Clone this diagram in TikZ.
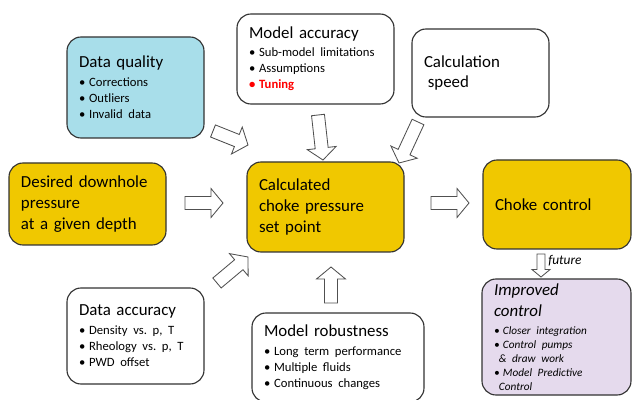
\documentclass[tikz,border=0pt]{standalone}
\usepackage{fontspec}
\setmainfont{Carlito}
\usetikzlibrary{calc}

\newdimen\px \px=0.025cm
\definecolor{boxline}{RGB}{50,50,50}
\definecolor{arrowline}{RGB}{80,80,80}
\definecolor{gold}{RGB}{240,200,0}
\definecolor{skyblue}{RGB}{168,222,234}
\definecolor{lavender}{RGB}{229,218,237}

\newcommand{\tsize}{\fontsize{12}{14.9}\selectfont}
\newcommand{\lsize}{\fontsize{9}{11.4}\selectfont}
\newcommand{\ssize}{\fontsize{8}{9.9}\selectfont}
\newcommand{\bul}{\textbullet\hspace{0.3em}}

\newcommand{\hollowarrow}[3][1]{%
	\coordinate (hb) at ($(#3)!#1*0.3cm!(#2)$);
	\draw[fatarrow] ($(#2)!#1*0.1625cm!90:(#3)$) -- ($(hb)!#1*0.1625cm!-90:(#2)$) -- ($(hb)!#1*0.3625cm!-90:(#2)$) -- (#3) -- ($(hb)!#1*0.3625cm!90:(#2)$) -- ($(hb)!#1*0.1625cm!90:(#2)$) -- ($(#2)!#1*0.1625cm!-90:(#3)$) -- cycle;
}

\tikzset{
	box/.style={draw=boxline, line width=0.8pt, rounded corners=14\px, inner xsep=12\px, inner ysep=2pt, font=\tsize, execute at begin node=\raggedright},
	fatarrow/.style={draw=arrowline, line width=0.6pt, fill=white, line join=miter},
	tag/.style={font=\fontsize{9.5}{11}\selectfont\itshape, inner sep=0pt, anchor=west}
}

\begin{document}
\begin{tikzpicture}[x=0.025cm, y=-0.025cm]
	\useasboundingbox (0,0) rectangle (632,400);
	\node[box, fill=skyblue, minimum width=137\px, minimum height=101\px, text width=113\px] (dq) at (135.5,87.5) {Data quality\par\vspace{2pt}\lsize\bul Corrections\par\bul Outliers\par\bul Invalid data\par};
	\node[box, fill=white, minimum width=157\px, minimum height=90\px, text width=133\px] (ma) at (315.5,59) {Model accuracy\par\vspace{1.5pt}\lsize\bul Sub-model limitations\par\bul Assumptions\par{\color{red}\bfseries\bul Tuning}\par};
	\node[box, fill=white, minimum width=137\px, minimum height=88\px, text width=113\px] (cs) at (480.5,73) {Calculation\par\hspace*{2.7pt}speed\par};
	\node[box, fill=gold, minimum width=157\px, minimum height=82\px, text width=133\px] (dd) at (87.5,204) {Desired~downhole\par pressure\par at a given depth\par};
	\node[box, fill=gold, minimum width=157\px, minimum height=90\px, text width=133\px] (cc) at (325.5,207) {Calculated\par choke pressure\par set point\par};
	\node[box, fill=gold, minimum width=148\px, minimum height=89\px, text width=124\px] (ck) at (557,204.5) {Choke control\par};
	\node[box, fill=lavender, minimum width=149\px, minimum height=116\px, text width=125\px, font=\tsize\itshape] (ic) at (556.5,337) {Improved\par control\par\vspace{2.9pt}\ssize\bul Closer integration\par\bul Control pumps\par\hspace*{3.5pt}\& draw work\par\bul Model Predictive\par\hspace*{3.5pt}Control\par};
	\node[box, fill=white, minimum width=137\px, minimum height=96\px, text width=113\px] (da) at (135.5,336) {Data accuracy\par\vspace{2pt}\lsize\bul Density vs.\ p, T\par\bul Rheology vs.\ p, T\par\bul PWD offset\par};
	\node[box, fill=white, minimum width=172\px, minimum height=89\px, text width=148\px] (mr) at (338,357.5) {Model robustness\par\vspace{2pt}\lsize\bul Long term performance\par\bul Multiple fluids\par\bul Continuous changes\par};

	\coordinate (dq-out) at (213,131);
	\coordinate (dq-in) at (248,145);
	\coordinate (ma-out) at (318,115);
	\coordinate (ma-in) at (323,160);
	\coordinate (cs-out) at (418,122);
	\coordinate (cs-in) at (399,163);
	\coordinate (dd-out) at (185,203);
	\coordinate (dd-in) at (223,203);
	\coordinate (da-out) at (217,283);
	\coordinate (da-in) at (248,257);
	\coordinate (mr-out) at (331,303);
	\coordinate (mr-in) at (331,267);
	\coordinate (cc-out) at (431,203);
	\coordinate (ck-in) at (469,203);
	\coordinate (ck-out) at (541,254);
	\coordinate (ic-in) at (541,277);

	\hollowarrow{dq-out}{dq-in}
	\hollowarrow{ma-out}{ma-in}
	\hollowarrow{cs-out}{cs-in}
	\hollowarrow{dd-out}{dd-in}
	\hollowarrow{da-out}{da-in}
	\hollowarrow{mr-out}{mr-in}
	\hollowarrow{cc-out}{ck-in}
	\hollowarrow[0.62]{ck-out}{ic-in}
	\node[tag] (fut) at (548,261) {future};
\end{tikzpicture}
\end{document}
